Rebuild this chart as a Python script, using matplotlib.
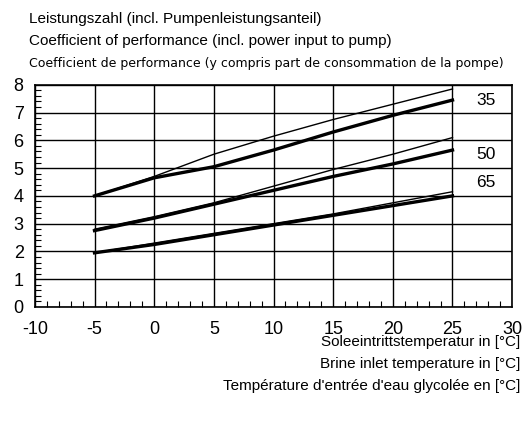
import numpy as np
import matplotlib.pyplot as plt
from matplotlib.ticker import MultipleLocator

plt.rcParams['axes.unicode_minus'] = False

# Brine inlet temperature [°C]
temps = [-5, 0, 5, 10, 15, 20, 25]

# COP curves: thin = upper, thick = lower line per flow temperature
cop_35_thin = [4.0, 4.7, 5.5, 6.15, 6.75, 7.3, 7.85]
cop_35_thick = [4.0, 4.65, 5.05, 5.65, 6.3, 6.9, 7.45]
cop_50_thin = [2.8, 3.25, 3.75, 4.35, 4.95, 5.5, 6.1]
cop_50_thick = [2.75, 3.2, 3.7, 4.2, 4.7, 5.15, 5.65]
cop_65_thin = [1.95, 2.3, 2.65, 3.0, 3.35, 3.75, 4.15]
cop_65_thick = [1.95, 2.25, 2.6, 2.95, 3.3, 3.65, 4.0]

curve_labels = ['35', '50', '65']
label_y = [7.45, 5.5, 4.5]

fig = plt.figure(figsize=(5.28, 4.24), dpi=100)
ax = fig.add_axes([0.066, 0.276, 0.904, 0.524])

for thin, thick in [(cop_35_thin, cop_35_thick), (cop_50_thin, cop_50_thick), (cop_65_thin, cop_65_thick)]:
    ax.plot(temps, thin, color='black', lw=1.0)
    ax.plot(temps, thick, color='black', lw=2.4)

for lab, y in zip(curve_labels, label_y):
    ax.text(27.0, y, lab, fontsize=12.5, va='center', ha='left', family='Liberation Sans')

ax.set_xlim(-10, 30)
ax.set_ylim(0, 8)
ax.xaxis.set_major_locator(MultipleLocator(5))
ax.xaxis.set_minor_locator(MultipleLocator(1))
ax.yaxis.set_major_locator(MultipleLocator(1))
ax.yaxis.set_minor_locator(MultipleLocator(0.2))
ax.grid(True, which='major', color='black', lw=1.0)
ax.tick_params(which='both', direction='in', labelsize=13, length=0)
ax.tick_params(which='minor', length=4, width=0.8)
ax.tick_params(axis='x', pad=10)
ax.tick_params(axis='y', pad=8)
for s in ax.spines.values():
    s.set_linewidth(1.2)
for lab in ax.get_xticklabels() + ax.get_yticklabels():
    lab.set_family('Liberation Sans')

fig.text(0.055, 0.945, 'Leistungszahl (incl. Pumpenleistungsanteil)', fontsize=11, family='Liberation Sans')
fig.text(0.055, 0.893, 'Coefficient of performance (incl. power input to pump)', fontsize=11, family='Liberation Sans')
fig.text(0.055, 0.843, 'Coefficient de performance (y compris part de consommation de la pompe)', fontsize=9,
         family='Liberation Sans Narrow')

fig.text(0.985, 0.185, 'Soleeintrittstemperatur in [°C]', fontsize=11, ha='right', family='Liberation Sans')
fig.text(0.985, 0.133, 'Brine inlet temperature in [°C]', fontsize=11, ha='right', family='Liberation Sans')
fig.text(0.985, 0.081, "Température d'entrée d'eau glycolée en [°C]", fontsize=11, ha='right', family='Liberation Sans')

fig.savefig('out.png', dpi=100)
